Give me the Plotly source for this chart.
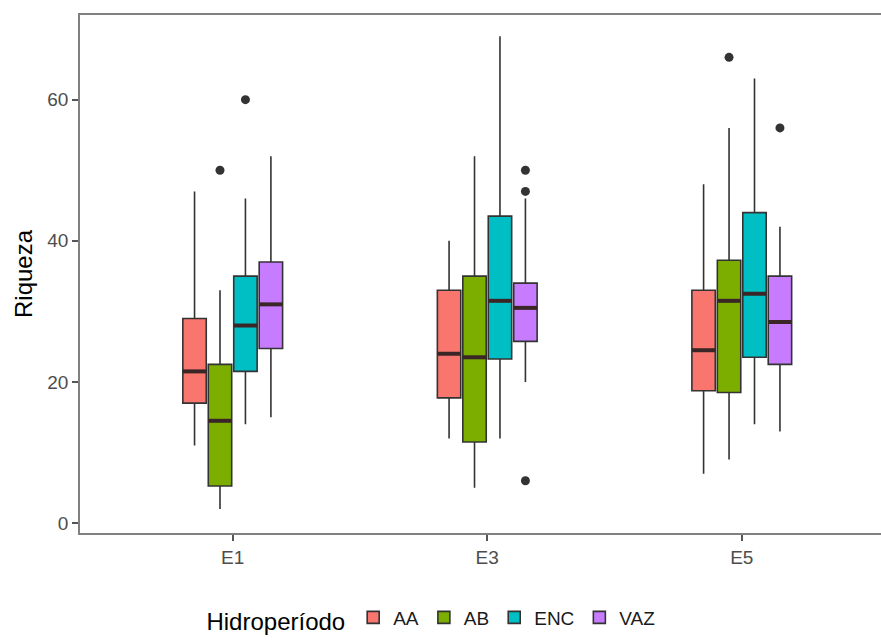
import plotly.graph_objects as go

# Sampling stations (x categories) and hydroperiod classes (fill groups)
estaciones = ["E1", "E3", "E5"]
hidroperiodos = ["AA", "AB", "ENC", "VAZ"]
colores = ["#F8766D", "#7CAE00", "#00BFC4", "#C77CFF"]

# Box statistics per hydroperiod, one value per station (E1, E3, E5)
bigote_inf = {"AA": [11, 12, 7], "AB": [2, 5, 9], "ENC": [14, 12, 14], "VAZ": [15, 20, 13]}
cuartil_1 = {"AA": [17, 17.75, 18.75], "AB": [5.25, 11.5, 18.5], "ENC": [21.5, 23.25, 23.5], "VAZ": [24.75, 25.75, 22.5]}
mediana = {"AA": [21.5, 24, 24.5], "AB": [14.5, 23.5, 31.5], "ENC": [28, 31.5, 32.5], "VAZ": [31, 30.5, 28.5]}
cuartil_3 = {"AA": [29, 33, 33], "AB": [22.5, 35, 37.25], "ENC": [35, 43.5, 44], "VAZ": [37, 34, 35]}
bigote_sup = {"AA": [47, 40, 48], "AB": [33, 52, 56], "ENC": [46, 69, 63], "VAZ": [52, 46, 42]}

# Outlying observations: (station, value)
atipicos = {
    "AA": [],
    "AB": [("E1", 50), ("E5", 66)],
    "ENC": [("E1", 60)],
    "VAZ": [("E3", 50), ("E3", 47), ("E3", 6), ("E5", 56)],
}

# Dodge layout: total width of a station group, split across the classes
ancho_grupo = 0.4
n = len(hidroperiodos)
paso = ancho_grupo / n
ancho_caja = paso * 0.92
borde = "#333333"


def posicion(estacion, k):
    return estaciones.index(estacion) - ancho_grupo / 2 + paso * (k + 0.5)


fig = go.Figure()

for k, (h, c) in enumerate(zip(hidroperiodos, colores)):
    xs = [posicion(e, k) for e in estaciones]
    fig.add_trace(go.Box(
        name=h,
        x=xs,
        q1=cuartil_1[h],
        median=mediana[h],
        q3=cuartil_3[h],
        lowerfence=bigote_inf[h],
        upperfence=bigote_sup[h],
        width=ancho_caja,
        whiskerwidth=0,
        fillcolor=c,
        line=dict(color=borde, width=1.6),
        boxpoints=False,
        hoverinfo="skip",
    ))

    # thicker median bar, as in ggplot's boxplot
    mx, my = [], []
    for x, m in zip(xs, mediana[h]):
        mx += [x - ancho_caja / 2, x + ancho_caja / 2, None]
        my += [m, m, None]
    fig.add_trace(go.Scatter(
        x=mx, y=my, mode="lines",
        line=dict(color="#3a2626", width=4),
        showlegend=False, hoverinfo="skip",
    ))

    if atipicos[h]:
        fig.add_trace(go.Scatter(
            x=[posicion(e, k) for e, _ in atipicos[h]],
            y=[v for _, v in atipicos[h]],
            mode="markers",
            marker=dict(color=borde, size=9),
            showlegend=False, hoverinfo="skip",
        ))

fuente = "Liberation Sans, Arial, sans-serif"

fig.update_layout(
    width=881,
    height=641,
    margin=dict(l=80, r=0, t=15, b=106),
    paper_bgcolor="white",
    plot_bgcolor="white",
    font=dict(family=fuente, color="#000000"),
    showlegend=True,
    legend=dict(
        orientation="h",
        x=0.44, xanchor="center",
        y=-0.167, yanchor="middle",
        title=dict(text="Hidroperíodo", side="left", font=dict(size=24, color="#000000")),
        font=dict(size=19, color="#1a1a1a"),
        itemwidth=30,
        traceorder="normal",
    ),
    xaxis=dict(
        range=[-0.6, 2.547],
        tickvals=list(range(len(estaciones))),
        ticktext=estaciones,
        showgrid=False,
        zeroline=False,
        showline=True,
        mirror=True,
        linecolor="#808080",
        linewidth=1.5,
        ticks="outside",
        ticklen=6,
        tickwidth=1.5,
        tickcolor="#555555",
        tickfont=dict(size=19, color="#4d4d4d", family=fuente),
    ),
    yaxis=dict(
        range=[-1.4, 72.0],
        tickvals=[0, 20, 40, 60],
        showgrid=False,
        zeroline=False,
        showline=True,
        linecolor="#808080",
        linewidth=1.5,
        ticks="outside",
        ticklen=6,
        tickwidth=1.5,
        tickcolor="#555555",
        tickfont=dict(size=19, color="#4d4d4d", family=fuente),
        title=dict(text="Riqueza", font=dict(size=24, color="#000000", family=fuente), standoff=8),
    ),
)

fig.write_html("out.html")
